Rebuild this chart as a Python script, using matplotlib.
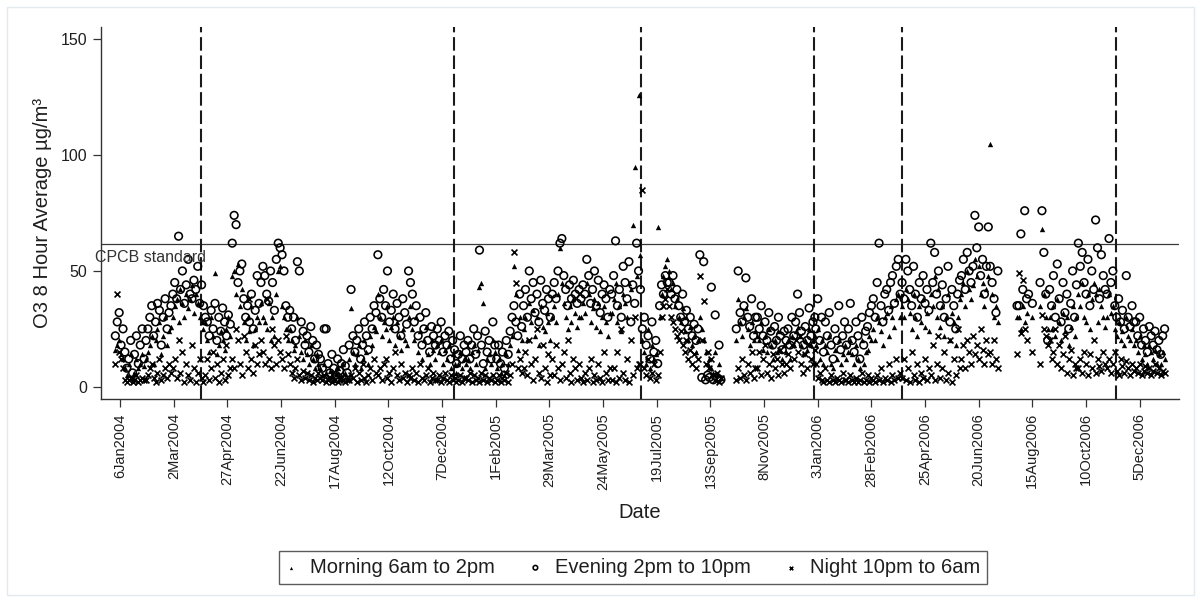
import numpy as np
import pandas as pd
import matplotlib
matplotlib.use('Agg')
import matplotlib.pyplot as plt
from matplotlib.patches import Rectangle

nan = np.nan

# ---------------- data (every second day, one line per month) ----------------
morning_2004 = [
    16, 18, 20, 14, 12, 8, 5, 10, 14, 4, 6, 12, 8, 10, 14, 9,
    12, 15, 18, 22, 10, 20, 25, 28, 14, 22, 30, 18, 24, 26,
    30, 35, 38, 28, 42, 36, 30, 40, 34, 38, 44, 32, 40, 36, 30, 28,
    25, 28, 20, 15, 30, 22, 49, 14, 18, 24, 20, 16, 25, 30, 22,
    48, 50, 40, 53, 35, 42, 28, 20, 30, 24, 35, 18, 25, 30, 28,
    36, 30, 28, 25, 36, 20, 30, 22, 40, 50, 52, 35, 30, 25, 20,
    25, 20, 16, 18, 30, 22, 15, 12, 20, 14, 10, 18, 12, 8, 14, 10,
    8, 5, 10, 6, 4, 7, 5, 3, 6, 8, 4, 5, 10, 6, 4,
    12, 34, 15, 10, 14, 18, 8, 12, 20, 15, 10, 22, 18, 26, 24,
    40, 30, 22, 28, 25, 35, 20, 26, 30, 18, 28, 22, 16, 25, 20, 18,
    30, 35, 25, 20, 30, 15, 24, 12, 20, 26, 14, 10, 20, 16, 12,
    18, 15, 20, 10, 16, 12, 18, 8, 14, 10, 6, 10, 15, 8, 12,
]
evening_2004 = [
    22, 28, 32, 18, 25, 15, 8, 12, 20, 6, 14, 22, 10, 18, 25, 12,
    20, 25, 30, 35, 22, 28, 36, 33, 18, 30, 38, 25, 32, 35,
    40, 45, 38, 65, 42, 50, 36, 44, 55, 40, 38, 46, 42, 52, 36, 44,
    35, 30, 28, 22, 33, 25, 36, 20, 30, 24, 34, 28, 22, 31, 27,
    62, 74, 70, 45, 50, 53, 38, 30, 35, 28, 40, 25, 33, 48, 36,
    45, 52, 48, 40, 37, 50, 45, 33, 55, 62, 60, 57, 50, 35, 30,
    33, 25, 30, 20, 54, 50, 28, 24, 18, 22, 15, 26, 20, 12, 18, 14,
    12, 8, 25, 25, 10, 6, 14, 8, 5, 12, 7, 10, 16, 9, 6,
    18, 42, 22, 15, 20, 25, 12, 18, 28, 22, 16, 30, 25, 35, 32,
    57, 38, 30, 42, 35, 50, 28, 33, 40, 25, 36, 30, 22, 38, 32, 27,
    50, 45, 40, 28, 35, 22, 30, 18, 25, 32, 20, 15, 26, 22, 18,
    25, 20, 28, 15, 22, 18, 24, 12, 20, 16, 10, 14, 22, 12, 18,
]
night_2004 = [
    10, 40, 15, 12, 8, 3, 2, 3, 4, 2, 3, 5, 2, 3, 4, 3,
    3, 5, 8, 10, 4, 2, 6, 12, 3, 5, 8, 4, 10, 6,
    8, 12, 4, 20, 6, 15, 2, 10, 5, 3, 18, 8, 2, 6, 12, 4,
    2, 5, 12, 3, 8, 15, 4, 10, 2, 6, 12, 3, 18, 5, 8,
    12, 8, 25, 20, 10, 5, 22, 15, 8, 38, 12, 6, 18, 10, 14,
    20, 15, 10, 38, 12, 8, 25, 18, 10, 20, 15, 12, 8, 22, 14,
    10, 6, 4, 8, 12, 5, 3, 7, 4, 6, 3, 5, 2, 4, 3, 6,
    4, 3, 5, 2, 3, 4, 2, 3, 5, 2, 3, 4, 3, 2, 3,
    3, 5, 4, 8, 2, 6, 3, 10, 4, 2, 5, 8, 3, 12, 6,
    5, 8, 3, 10, 12, 4, 6, 2, 8, 15, 5, 3, 10, 4, 6, 2,
    5, 4, 8, 3, 6, 2, 10, 4, 3, 5, 8, 2, 4, 6, 3,
    3, 5, 2, 4, 6, 3, 2, 5, 3, 4, 2, 3, 5, 2, 4,
]

morning_2005 = [
    10, 12, 8, 15, 18, 10, 16, 43, 45, 36, 8, 12, 14, 10, 20, 15,
    8, 12, 6, 10, 5, 14, 10, 18, 22, 52, 40, 16, 30, 20,
    25, 30, 20, 36, 28, 33, 22, 30, 18, 35, 26, 24, 32, 28, 20,
    30, 35, 28, 40, 60, 45, 36, 30, 25, 35, 28, 38, 32, 26, 30,
    30, 36, 32, 45, 40, 28, 34, 38, 26, 36, 24, 30, 35, 28, 22, 32,
    32, 38, 45, 28, 35, 24, 40, 36, 30, 45, 42, 70, 95, 48, 126,
    57, 20, 15, 10, 25, 8, 18, 12, 14, 69, 30, 40, 48, 52, 55,
    50, 42, 45, 35, 38, 30, 28, 34, 24, 30, 20, 26, 18, 22, 15, 20,
    30, 25, 20, 15, 10, 12, 8, 6, 15, 5, 10, 4, nan, nan, nan,
    nan, nan, nan, nan, 20, 38, 28, 22, 30, 34, 25, 18, 28, 20, 24,
    22, 20, 28, 16, 22, 15, 25, 18, 12, 20, 15, 24, 16, 12, 18,
    15, 20, 12, 22, 18, 24, 26, 22, 18, 14, 20, 16, 25, 18, 20, 22,
]
evening_2005 = [
    15, 20, 12, 18, 25, 14, 22, 59, 18, 10, 24, 15, 20, 12, 28, 18,
    12, 18, 10, 15, 8, 20, 14, 24, 30, 35, 28, 22, 40, 26,
    35, 42, 30, 50, 38, 45, 32, 40, 28, 46, 36, 33, 42, 38, 30,
    40, 45, 38, 50, 62, 64, 48, 42, 35, 44, 38, 46, 40, 36, 42,
    38, 44, 40, 55, 48, 36, 42, 50, 35, 46, 32, 40, 44, 38, 30, 42,
    40, 48, 63, 35, 42, 30, 52, 45, 38, 54, 28, 44, 36, 62, 50,
    42, 25, 30, 18, 22, 12, 28, 15, 20, 10, 35, 44, 40, 48, 45,
    45, 40, 48, 38, 42, 35, 30, 40, 28, 33, 25, 30, 22, 27, 20, 25,
    57, 4, 54, 3, 5, 4, 43, 3, 31, 4, 18, 3, nan, nan, nan,
    nan, nan, nan, nan, 25, 50, 32, 28, 35, 47, 30, 26, 38, 22, 30,
    30, 25, 35, 22, 28, 20, 32, 24, 18, 26, 20, 30, 22, 16, 24,
    20, 25, 18, 30, 22, 28, 40, 32, 24, 18, 26, 20, 34, 22, 28, 30,
]
night_2005 = [
    4, 3, 6, 2, 5, 3, 4, 2, 6, 3, 5, 2, 4, 3, 5, 2,
    3, 5, 2, 4, 3, 6, 2, 5, 10, 58, 45, 8, 12, 6,
    8, 15, 5, 20, 10, 3, 12, 25, 6, 4, 18, 8, 2, 14, 5,
    12, 5, 18, 8, 3, 10, 15, 4, 20, 6, 2, 12, 8, 3, 10,
    4, 2, 6, 3, 8, 12, 2, 5, 3, 10, 4, 2, 15, 6, 3, 8,
    3, 8, 2, 15, 4, 25, 6, 3, 12, 2, 20, 5, 30, 8, 10,
    10, 85, 8, 5, 12, 4, 6, 10, 3, 5, 15, 30, 35, 38, 42,
    35, 30, 28, 25, 22, 20, 24, 18, 15, 20, 12, 16, 10, 14, 8, 12,
    48, 20, 37, 10, 15, 8, 12, 5, 3, 6, 2, 4, nan, nan, nan,
    nan, nan, nan, nan, 3, 8, 4, 12, 5, 3, 10, 6, 15, 4, 8,
    8, 15, 5, 12, 18, 6, 10, 4, 14, 8, 12, 5, 16, 10, 6,
    10, 14, 8, 18, 12, 20, 15, 22, 10, 6, 14, 8, 18, 12, 10, 16,
]

morning_2006 = [
    18, 25, 12, 20, 10, 18, 15, 22, 10, 8, 16, 12, 20, 10, 14, 18,
    12, 15, 20, 14, 10, 18, 12, 8, 20, 10, 15, 16, 22, 20,
    25, 20, 30, 28, 24, 18, 30, 32, 22, 35, 30, 26, 38, 40, 30,
    35, 30, 42, 38, 32, 25, 40, 30, 22, 35, 28, 38, 26, 32, 24,
    40, 35, 48, 30, 42, 26, 35, 22, 30, 40, 20, 32, 28, 18, 30, 38,
    40, 45, 35, 50, 42, 38, 44, 55, 48, 52, 40, 45, 35, 42, 48,
    105, 40, 30, 35, 28, nan, nan, nan, nan, nan, nan, nan, nan, nan, 30,
    30, 25, 35, 28, 32, nan, nan, 30, nan, nan, nan, 35, 68, 40, 30, 25,
    30, 25, 35, 22, 38, 28, 20, 32, 24, 30, 18, 26, 35, 22, 30,
    40, 35, 45, 30, 28, 40, 25, 38, 45, 40, 28, 42, 35, 30, 26,
    30, 40, 32, 35, 25, 22, 28, 20, 24, 18, 30, 22, 20, 25, 18,
    20, 15, 22, 12, 18, 14, 10, 18, 15, 12, 16, 10, 14, 10, 15, 12,
]
evening_2006 = [
    25, 38, 20, 30, 15, 28, 22, 32, 18, 12, 25, 20, 35, 16, 22, 28,
    18, 25, 36, 20, 15, 28, 22, 12, 30, 18, 24, 26, 32, 35,
    38, 30, 45, 62, 35, 28, 40, 42, 33, 45, 48, 36, 52, 55, 40,
    45, 38, 55, 50, 42, 35, 52, 40, 30, 45, 38, 48, 36, 42, 33,
    62, 45, 58, 40, 50, 35, 44, 30, 38, 52, 28, 42, 35, 25, 40, 46,
    48, 55, 42, 58, 50, 45, 52, 74, 60, 69, 48, 55, 40, 52, 69,
    52, 45, 38, 32, 50, nan, nan, nan, nan, nan, nan, nan, nan, nan, 35,
    35, 66, 42, 76, 38, 40, nan, 36, nan, nan, nan, 45, 76, 58, 40, 20,
    42, 35, 48, 30, 53, 38, 28, 45, 32, 40, 25, 36, 50, 30, 44,
    62, 52, 58, 45, 40, 55, 35, 50, 42, 72, 60, 38, 57, 48, 42,
    40, 64, 45, 50, 35, 30, 38, 28, 33, 25, 48, 30, 26, 35, 28,
    28, 22, 30, 18, 25, 20, 15, 26, 22, 18, 24, 16, 20, 14, 22, 25,
]
night_2006 = [
    10, 4, 6, 3, 2, 8, 3, 2, 5, 3, 2, 4, 3, 2, 6, 3,
    3, 2, 5, 3, 2, 4, 2, 3, 6, 2, 3, 5, 2, 4,
    3, 2, 5, 3, 8, 2, 4, 3, 10, 2, 5, 3, 12, 4, 6,
    4, 12, 3, 8, 2, 15, 5, 3, 10, 2, 6, 4, 12, 3, 8,
    5, 18, 3, 10, 22, 4, 8, 15, 3, 6, 20, 2, 12, 5, 25, 8,
    12, 18, 8, 20, 15, 10, 22, 14, 18, 12, 25, 16, 10, 20, 14,
    15, 10, 20, 12, 8, nan, nan, nan, nan, nan, nan, nan, nan, nan, 14,
    49, 23, 46, 25, 20, nan, nan, 15, nan, nan, nan, 10, 31, 25, 22, 18,
    20, 12, 15, 25, 10, 18, 8, 14, 22, 6, 12, 16, 5, 10, 8,
    8, 12, 6, 15, 10, 5, 14, 8, 20, 6, 12, 9, 7, 15, 10,
    8, 12, 6, 10, 15, 7, 5, 12, 9, 6, 11, 8, 5, 10, 7,
    8, 6, 10, 5, 7, 9, 6, 8, 5, 7, 10, 6, 8, 5, 7, 6,
]

tick_labels = ['6Jan2004', '2Mar2004', '27Apr2004', '22Jun2004', '17Aug2004',
               '12Oct2004', '7Dec2004', '1Feb2005', '29Mar2005', '24May2005',
               '19Jul2005', '13Sep2005', '8Nov2005', '3Jan2006', '28Feb2006',
               '25Apr2006', '20Jun2006', '15Aug2006', '10Oct2006', '5Dec2006']
period_breaks = ['2004-03-30', '2004-12-19', '2005-07-03', '2005-12-30',
                 '2006-04-01', '2006-11-10']
cpcb_standard = 61.6
series_names = ['Morning 6am to 2pm', 'Evening 2pm to 10pm', 'Night 10pm to 6am']

# ---------------- assemble ----------------
def year_series(year, vals):
    d = pd.date_range(f'{year}-01-01', periods=len(vals), freq='2D')
    return pd.Series(np.array(vals, dtype=float), index=d)

morning = pd.concat([year_series(2004, morning_2004), year_series(2005, morning_2005),
                     year_series(2006, morning_2006)])
evening = pd.concat([year_series(2004, evening_2004), year_series(2005, evening_2005),
                     year_series(2006, evening_2006)])
night = pd.concat([year_series(2004, night_2004), year_series(2005, night_2005),
                   year_series(2006, night_2006)])

plt.rcParams['font.family'] = ['Liberation Sans', 'DejaVu Sans']
txt = '#1e1e1e'

fig = plt.figure(figsize=(11.99, 5.97), dpi=100)
fig.patches.append(Rectangle((0.006, 0.004), 0.99, 0.985, transform=fig.transFigure,
                             fill=False, edgecolor='#e3eaee', linewidth=1.0))
ax = fig.add_axes([0.0842, 0.3312, 0.8991, 0.6231])

ax.scatter(morning.index, morning.values, marker='^', s=15, color='black',
           linewidths=0, label=series_names[0], zorder=3)
ax.scatter(evening.index, evening.values, marker='o', s=30, facecolors='none',
           edgecolors='black', linewidths=1.15, label=series_names[1], zorder=3)
ax.scatter(night.index, night.values, marker='x', s=18, color='black',
           linewidths=1.2, label=series_names[2], zorder=3)

ax.axhline(cpcb_standard, color='#3a3a3a', linewidth=0.9, zorder=2)
for b in period_breaks:
    ax.axvline(pd.Timestamp(b), color='#1a1a1a', linewidth=1.5,
               linestyle=(0, (6.5, 2.3)), zorder=2)

ax.text(-0.0056, 53.8, 'CPCB standard', transform=ax.get_yaxis_transform(),
        fontsize=11.5, color='#333333', ha='left', va='baseline', zorder=4)

ax.set_xlim(pd.Timestamp('2003-12-17'), pd.Timestamp('2007-01-15'))
ax.set_ylim(-5.4, 155.2)

tick_dates = [pd.to_datetime(t, format='%d%b%Y') for t in tick_labels]
ax.set_xticks(tick_dates)
ax.set_xticklabels(tick_labels, rotation=90, fontsize=10.5, color=txt)
ax.set_yticks([0, 50, 100, 150])
ax.set_yticklabels(['0', '50', '100', '150'], fontsize=11.5, color=txt)
ax.tick_params(axis='both', direction='out', length=6, width=0.9, color='#333333')
ax.tick_params(axis='x', pad=4)
ax.tick_params(axis='y', pad=4)

for s in ['top', 'right']:
    ax.spines[s].set_visible(False)
for s in ['left', 'bottom']:
    ax.spines[s].set_color('#333333')
    ax.spines[s].set_linewidth(1.0)

ax.set_xlabel('Date', fontsize=14.5, color=txt)
ax.xaxis.set_label_coords(0.5, -0.28)
ax.set_ylabel('O3 8 Hour Average µg/m³', fontsize=14.5, color=txt)
ax.yaxis.set_label_coords(-0.045, 0.5)

leg = fig.legend(loc='center', bbox_to_anchor=(0.528, 0.0494), ncol=3,
                 fontsize=14.5, frameon=True, fancybox=False, shadow=False,
                 handlelength=0.5, handletextpad=0.7, columnspacing=1.75,
                 borderpad=0.35, borderaxespad=0, markerscale=0.6)
leg.get_frame().set_edgecolor('#333333')
leg.get_frame().set_linewidth(1.0)
for t in leg.get_texts():
    t.set_color(txt)

fig.savefig('out.png', dpi=100, facecolor='white')
